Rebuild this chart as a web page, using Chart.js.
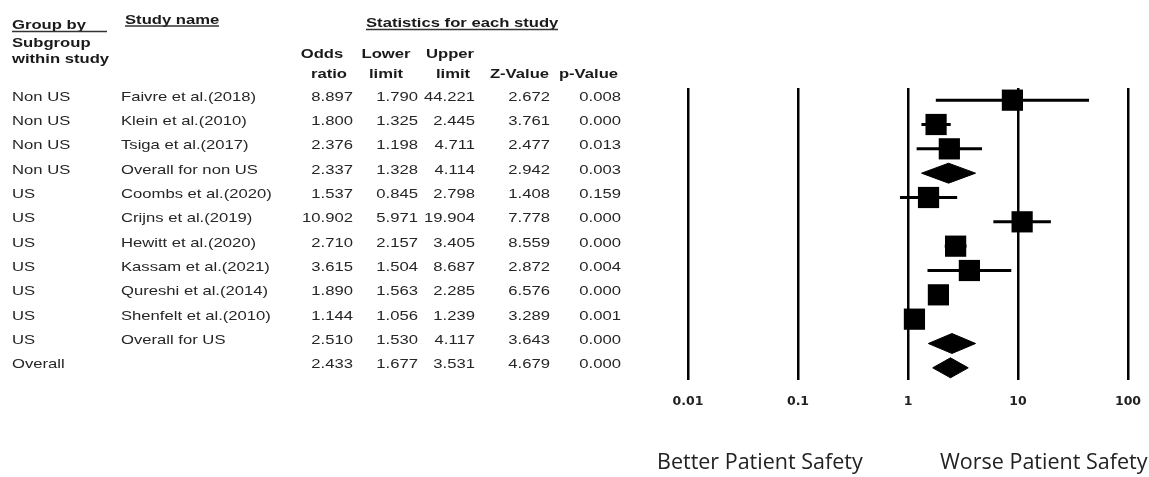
<!DOCTYPE html>
<html>
<head>
<meta charset="utf-8">
<script src="https://cdn.jsdelivr.net/npm/chart.js@4"></script>
<style>
html,body{margin:0;padding:0;background:#ffffff;}
#wrap{position:relative;width:1149px;height:477px;}
</style>
</head>
<body>
<div id="wrap"><canvas id="c" width="1149" height="477"></canvas></div>
<script>
// ---- data ----
const groups = ['Non US','Non US','Non US','Non US','US','US','US','US','US','US','US','Overall'];
const studies = ['Faivre et al.(2018)','Klein et al.(2010)','Tsiga et al.(2017)','Overall for non US',
  'Coombs et al.(2020)','Crijns et al.(2019)','Hewitt et al.(2020)','Kassam et al.(2021)',
  'Qureshi et al.(2014)','Shenfelt et al.(2010)','Overall for US',''];
const rowKinds = ['study','study','study','subtotal','study','study','study','study','study','study','subtotal','subtotal'];
const oddsRatio  = [8.897, 1.800, 2.376, 2.337, 1.537, 10.902, 2.710, 3.615, 1.890, 1.144, 2.510, 2.433];
const lowerLimit = [1.790, 1.325, 1.198, 1.328, 0.845, 5.971, 2.157, 1.504, 1.563, 1.056, 1.530, 1.677];
const upperLimit = [44.221, 2.445, 4.711, 4.114, 2.798, 19.904, 3.405, 8.687, 2.285, 1.239, 4.117, 3.531];
const zValue     = [2.672, 3.761, 2.477, 2.942, 1.408, 7.778, 8.559, 2.872, 6.576, 3.289, 3.643, 4.679];
const pValue     = [0.008, 0.000, 0.013, 0.003, 0.159, 0.000, 0.000, 0.004, 0.000, 0.001, 0.000, 0.000];
const tickValues = [0.01, 0.1, 1, 10, 100];
const tickLabels = ['0.01', '0.1', '1', '10', '100'];
const leftLabel = 'Better Patient Safety';
const rightLabel = 'Worse Patient Safety';

// ---- styles ----
const INK = '#000000';
const TEXT = '#262626';
const SX = 1.28;            // horizontal stretch of the table text
const DIAMOND_HALF = 0.41;  // half height of summary diamonds in row units

const rows = oddsRatio.map((_, i) => i);
const studyRows = rows.filter(i => rowKinds[i] === 'study');
const subRows = rows.filter(i => rowKinds[i] === 'subtotal');

const datasets = [];
datasets.push({
  label: 'studies',
  data: studyRows.map(i => ({x: oddsRatio[i], y: i})),
  pointStyle: 'rect', pointRadius: 15, pointHoverRadius: 15,
  backgroundColor: INK, borderWidth: 0, showLine: false
});
studyRows.forEach(i => datasets.push({
  label: 'ci' + i,
  data: [{x: lowerLimit[i], y: i}, {x: upperLimit[i], y: i}],
  showLine: true, borderColor: INK, borderWidth: 3, pointRadius: 0, pointHoverRadius: 0, fill: false
}));
subRows.forEach(i => {
  datasets.push({
    label: 'dtop' + i,
    data: [{x: lowerLimit[i], y: i}, {x: oddsRatio[i], y: i - DIAMOND_HALF}, {x: upperLimit[i], y: i}],
    showLine: true, borderColor: INK, borderWidth: 1, pointRadius: 0, pointHoverRadius: 0,
    fill: '+1', backgroundColor: INK, tension: 0
  });
  datasets.push({
    label: 'dbot' + i,
    data: [{x: lowerLimit[i], y: i}, {x: oddsRatio[i], y: i + DIAMOND_HALF}, {x: upperLimit[i], y: i}],
    showLine: true, borderColor: INK, borderWidth: 1, pointRadius: 0, pointHoverRadius: 0,
    fill: false, backgroundColor: INK, tension: 0
  });
});

const fmt = v => v.toFixed(3);

const tablePlugin = {
  id: 'forestTable',
  afterDraw(chart) {
    const ctx = chart.ctx;
    const ys = chart.scales.y;
    const txt = (s, x, y, align, font, color, sx) => {
      ctx.save();
      ctx.font = font;
      ctx.fillStyle = color;
      ctx.textAlign = align;
      ctx.textBaseline = 'alphabetic';
      ctx.translate(x, y);
      ctx.scale(sx, 1);
      ctx.fillText(s, 0, 0);
      ctx.restore();
    };
    const line = (x1, x2, y) => {
      ctx.save();
      ctx.strokeStyle = '#333';
      ctx.lineWidth = 1.5;
      ctx.beginPath();
      ctx.moveTo(x1, y); ctx.lineTo(x2, y);
      ctx.stroke();
      ctx.restore();
    };
    const HB = 'bold 13px "Liberation Sans", Arial, sans-serif';
    const HR = '13px "Liberation Sans", Arial, sans-serif';
    // headers
    txt('Group by', 12, 29, 'left', HB, '#1a1a1a', SX);
    line(12, 107, 31.5);
    txt('Study name', 125, 23.5, 'left', HB, '#1a1a1a', SX);
    line(125, 219, 26);
    txt('Statistics for each study', 366, 27, 'left', HB, '#1a1a1a', SX);
    line(366, 558, 29.5);
    txt('Subgroup', 12, 46.5, 'left', HB, '#1a1a1a', SX);
    txt('within study', 12, 63, 'left', HB, '#1a1a1a', SX);
    txt('Odds', 322, 57.5, 'center', HB, '#1a1a1a', SX);
    txt('ratio', 329, 77.5, 'center', HB, '#1a1a1a', SX);
    txt('Lower', 386, 57.5, 'center', HB, '#1a1a1a', SX);
    txt('limit', 386, 77.5, 'center', HB, '#1a1a1a', SX);
    txt('Upper', 450, 57.5, 'center', HB, '#1a1a1a', SX);
    txt('limit', 453, 77.5, 'center', HB, '#1a1a1a', SX);
    txt('Z-Value', 519.5, 77.5, 'center', HB, '#1a1a1a', SX);
    txt('p-Value', 588.5, 77.5, 'center', HB, '#1a1a1a', SX);
    // rows
    rows.forEach(i => {
      const y = ys.getPixelForValue(i) + 0.5;
      txt(groups[i], 12, y, 'left', HR, TEXT, SX);
      txt(studies[i], 121, y, 'left', HR, TEXT, SX);
      txt(fmt(oddsRatio[i]), 353, y, 'right', HR, TEXT, SX);
      txt(fmt(lowerLimit[i]), 418, y, 'right', HR, TEXT, SX);
      txt(fmt(upperLimit[i]), 475, y, 'right', HR, TEXT, SX);
      txt(fmt(zValue[i]), 550, y, 'right', HR, TEXT, SX);
      txt(fmt(pValue[i]), 621, y, 'right', HR, TEXT, SX);
    });
    // bottom direction labels
    const BF = '21.5px "Open Sans", "Noto Sans", sans-serif';
    txt(leftLabel, 657, 469, 'left', BF, '#222', 1);
    txt(rightLabel, 940, 469, 'left', BF, '#222', 1);
  }
};

new Chart(document.getElementById('c'), {
  type: 'scatter',
  data: { datasets },
  options: {
    responsive: false,
    animation: false,
    events: [],
    layout: { padding: { left: 688, right: 21, top: 88, bottom: 0 } },
    plugins: { legend: { display: false }, tooltip: { enabled: false } },
    scales: {
      x: {
        type: 'logarithmic', position: 'bottom', min: 0.01, max: 100,
        afterBuildTicks: s => { s.ticks = tickValues.map(v => ({value: v})); },
        afterFit: s => { s.height = 97; s.paddingLeft = 0; s.paddingRight = 0; },
        ticks: {
          autoSkip: false, maxRotation: 0, minRotation: 0, padding: 14,
          color: '#222',
          font: { family: 'DejaVu Sans', size: 12.5, weight: 'bold' },
          callback: (v, i) => tickLabels[i]
        },
        grid: { color: INK, lineWidth: 2.5, drawTicks: false },
        border: { display: false }
      },
      y: {
        type: 'linear', display: false, min: -0.5, max: 11.5, reverse: true
      }
    }
  },
  plugins: [tablePlugin]
});
</script>
</body>
</html>
